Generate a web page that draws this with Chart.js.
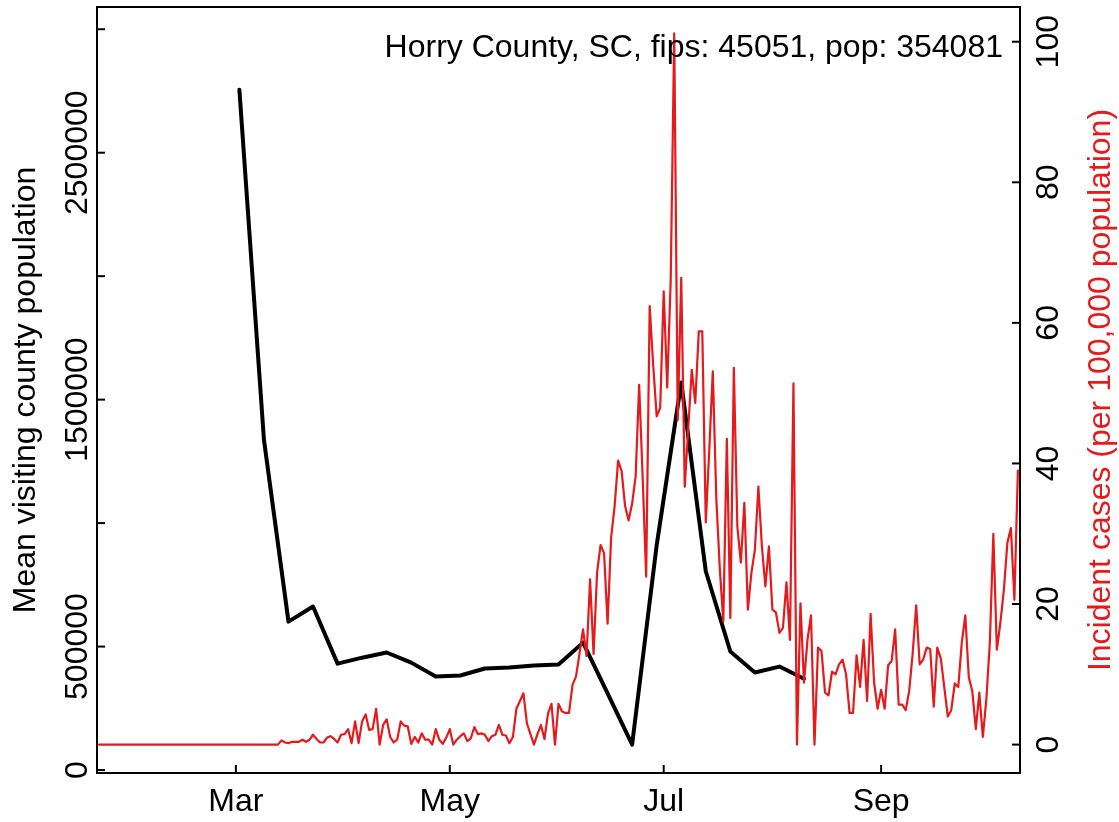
<!DOCTYPE html>
<html lang="en">
<head>
<meta charset="UTF-8">
<title>Horry County, SC - visiting population vs incident cases</title>
<script src="https://cdn.jsdelivr.net/npm/chart.js/dist/chart.umd.min.js"></script>
<style>
  html, body { margin: 0; padding: 0; background: #fff; }
</style>
</head>
<body>
<canvas id="myChart" width="1119" height="822"></canvas>
<script>
// ---- data ----
const plotTitle = 'Horry County, SC, fips: 45051, pop: 354081';
const leftTitle = 'Mean visiting county population';
const rightTitle = 'Incident cases (per 100,000 population)';

// weekly mean visiting population (Mondays)
const visitDates = ['2020-03-02', '2020-03-09', '2020-03-16', '2020-03-23', '2020-03-30', '2020-04-06',
  '2020-04-13', '2020-04-20', '2020-04-27', '2020-05-04', '2020-05-11', '2020-05-18', '2020-05-25',
  '2020-06-01', '2020-06-08', '2020-06-15', '2020-06-22', '2020-06-29', '2020-07-06', '2020-07-13',
  '2020-07-20', '2020-07-27', '2020-08-03', '2020-08-10'];
const visitPop = [2755000, 1338000, 601000, 662000, 431000, 455000,
  476000, 435000, 379000, 383000, 411000, 415000, 423000,
  427000, 516000, 310000, 103000, 911000, 1569000, 805000,
  480000, 395000, 419000, 370000];

// daily incident cases per 100k, starting 2020-01-22
const caseStart = '2020-01-22';
const incidentCases = [
  0, 0, 0, 0, 0, 0, 0, 0, 0, 0, 0, 0, 0, 0, 0, 0, 0, 0, 0, 0,           // Jan 22 - Feb 10
  0, 0, 0, 0, 0, 0, 0, 0, 0, 0, 0, 0, 0, 0, 0, 0, 0, 0, 0, 0,           // Feb 11 - Mar 1
  0, 0, 0, 0, 0, 0, 0, 0, 0, 0, 0, 0,                                   // Mar 2 - Mar 13
  0.6, 0.3, 0.2, 0.4, 0.4, 0.4, 0.7, 0.4, 0.7, 1.4, 0.8, 0.3, 0.3, 1.0, 1.2, 0.8, 0.3, 1.4,
  1.5, 2.2, 0.2, 3.3, 0.2, 3.3, 4.3, 2.1, 2.2, 5.1, 0, 2.8, 3.6, 1.1, 0.3, 0.7, 3.3, 2.7,
  2.6, 0.1, 1.1, 0.3, 1.6, 0.7, 0.7, 0, 2.2, 0.7, 0.1, 1.0, 2.2, 0, 0.7, 1.2, 1.6, 0.5,
  0.9, 2.5, 1.5, 1.6, 1.4, 0.5, 1.2, 1.4, 2.8, 1.4, 1.3, 0.2, 1.1, 5.1, 6.2, 7.3, 3.0, 1.5,
  0, 1.5, 2.8, 0.8, 4.4, 5.8, 0, 5.8, 4.7, 4.5, 4.5, 8.5, 9.7, 13.0, 16.4, 12.6, 23.5, 12.9,
  24.5, 28.4, 27.2, 17.2, 29.4, 33.9, 40.4, 38.9, 33.9, 31.9, 34.3, 38.2, 51.2, 38, 23.9, 62.4,
  54, 46.7, 47.9, 64.5, 50.8, 66.1, 101.2, 46.2, 66.4, 36.7, 45, 53.3, 48.6, 58.8, 58.8, 31.6,
  42, 53.1, 35, 25, 17.5, 43.5, 18, 53.6, 31, 25.9, 34.4, 19.2, 24.4, 27.7, 36.7, 28.2,
  22.5, 28.2, 19.2, 18.8, 15.9, 16.6, 23.1, 14.9, 51.4, 0, 20.1, 8.8, 14.9, 18.4, 0, 13.8,
  13.3, 7.4, 7.0, 10.4, 10, 11.4, 12.1, 10, 4.5, 4.5, 12.7, 8.2, 14.9, 6.2, 18.6, 8.8,
  5.1, 7.8, 5.1, 11.3, 11.9, 16.4, 5.7, 5.7, 4.9, 7.6, 13.0, 19.8, 11.4, 12.1, 13.8, 13.6,
  5.4, 13.8, 12.3, 8.2, 4.0, 4.9, 8.7, 8.2, 14.5, 18.4, 9.6, 7.6, 2.2, 7.4, 1.1, 6.4,
  14.5, 30.0, 13.5, 17.3, 22, 28.7, 30.8, 20.6, 39
];

// axis ticks
const monthTicks = ['2020-03-01', '2020-05-01', '2020-07-01', '2020-09-01'];
const monthLabels = ['Mar', 'May', 'Jul', 'Sep'];
const popTicks = [0, 500000, 1000000, 1500000, 2000000, 2500000, 3000000];
const popLabels = ['0', '500000', '', '1500000', '', '2500000', ''];
const caseTicks = [0, 20, 40, 60, 80, 100];
const caseLabels = ['0', '20', '40', '60', '80', '100'];

// ---- helpers ----
function dayOf(s) {
  return (Date.parse(s + 'T00:00:00Z') - Date.UTC(2020, 0, 1)) / 86400000;
}

const RED = '#e41a1c';
const FONT = '32px "Liberation Sans", Arial, Helvetica, sans-serif';

const caseData = incidentCases.map((v, i) => ({ x: dayOf(caseStart) + i, y: v }));
const visitData = visitPop.map((v, i) => ({ x: dayOf(visitDates[i]), y: v }));

// R-style frame: box, inward ticks, rotated y labels
const frame = {
  id: 'frame',
  afterDraw(chart) {
    const { ctx, chartArea: a, scales } = chart;
    const line = (x1, y1, x2, y2) => { ctx.beginPath(); ctx.moveTo(x1, y1); ctx.lineTo(x2, y2); ctx.stroke(); };
    const upText = (txt, x, y) => {
      ctx.save();
      ctx.translate(x, y);
      ctx.rotate(-Math.PI / 2);
      ctx.textAlign = 'center';
      ctx.textBaseline = 'alphabetic';
      ctx.fillText(txt, 0, 0);
      ctx.restore();
    };

    ctx.save();
    ctx.strokeStyle = '#000';
    ctx.lineWidth = 2;
    ctx.strokeRect(a.left, a.top, a.right - a.left, a.bottom - a.top);

    ctx.font = FONT;
    ctx.fillStyle = '#000';
    ctx.textAlign = 'center';
    ctx.textBaseline = 'alphabetic';
    monthTicks.forEach((m, i) => {
      const px = scales.x.getPixelForValue(dayOf(m));
      line(px, a.bottom, px, a.bottom - 8);
      ctx.fillText(monthLabels[i], px, 811);
    });

    popTicks.forEach((v, i) => {
      const py = scales.y.getPixelForValue(v);
      line(a.left, py, a.left + 8, py);
      if (popLabels[i]) upText(popLabels[i], 87, py);
    });

    caseTicks.forEach((v, i) => {
      const py = scales.y2.getPixelForValue(v);
      line(a.right - 8, py, a.right, py);
      upText(caseLabels[i], 1058, py);
    });

    const midY = (a.top + a.bottom) / 2;
    upText(leftTitle, 35, midY);
    ctx.fillStyle = RED;
    upText(rightTitle, 1110, midY);

    ctx.fillStyle = '#000';
    ctx.textAlign = 'right';
    ctx.fillText(plotTitle, 1003, 57);
    ctx.restore();
  }
};

new Chart(document.getElementById('myChart'), {
  type: 'line',
  data: {
    datasets: [
      {
        label: 'Incident cases',
        data: caseData,
        yAxisID: 'y2',
        borderColor: RED,
        borderWidth: 2.2,
        pointRadius: 0,
        tension: 0,
        borderJoinStyle: 'round',
        borderCapStyle: 'round'
      },
      {
        label: 'Mean visiting county population',
        data: visitData,
        yAxisID: 'y',
        borderColor: '#000',
        borderWidth: 4,
        pointRadius: 0,
        tension: 0,
        borderJoinStyle: 'round',
        borderCapStyle: 'round'
      }
    ]
  },
  options: {
    responsive: false,
    animation: false,
    parsing: true,
    layout: { padding: { left: 97, right: 99, top: 7, bottom: 49 } },
    plugins: { legend: { display: false }, tooltip: { enabled: false } },
    scales: {
      x: { type: 'linear', display: false, min: 20.4, max: 283.6 },
      y: { type: 'linear', display: false, min: -12000, max: 3090000 },
      y2: { type: 'linear', display: false, position: 'right', min: -4.04, max: 104.94 }
    }
  },
  plugins: [frame]
});
</script>
</body>
</html>
